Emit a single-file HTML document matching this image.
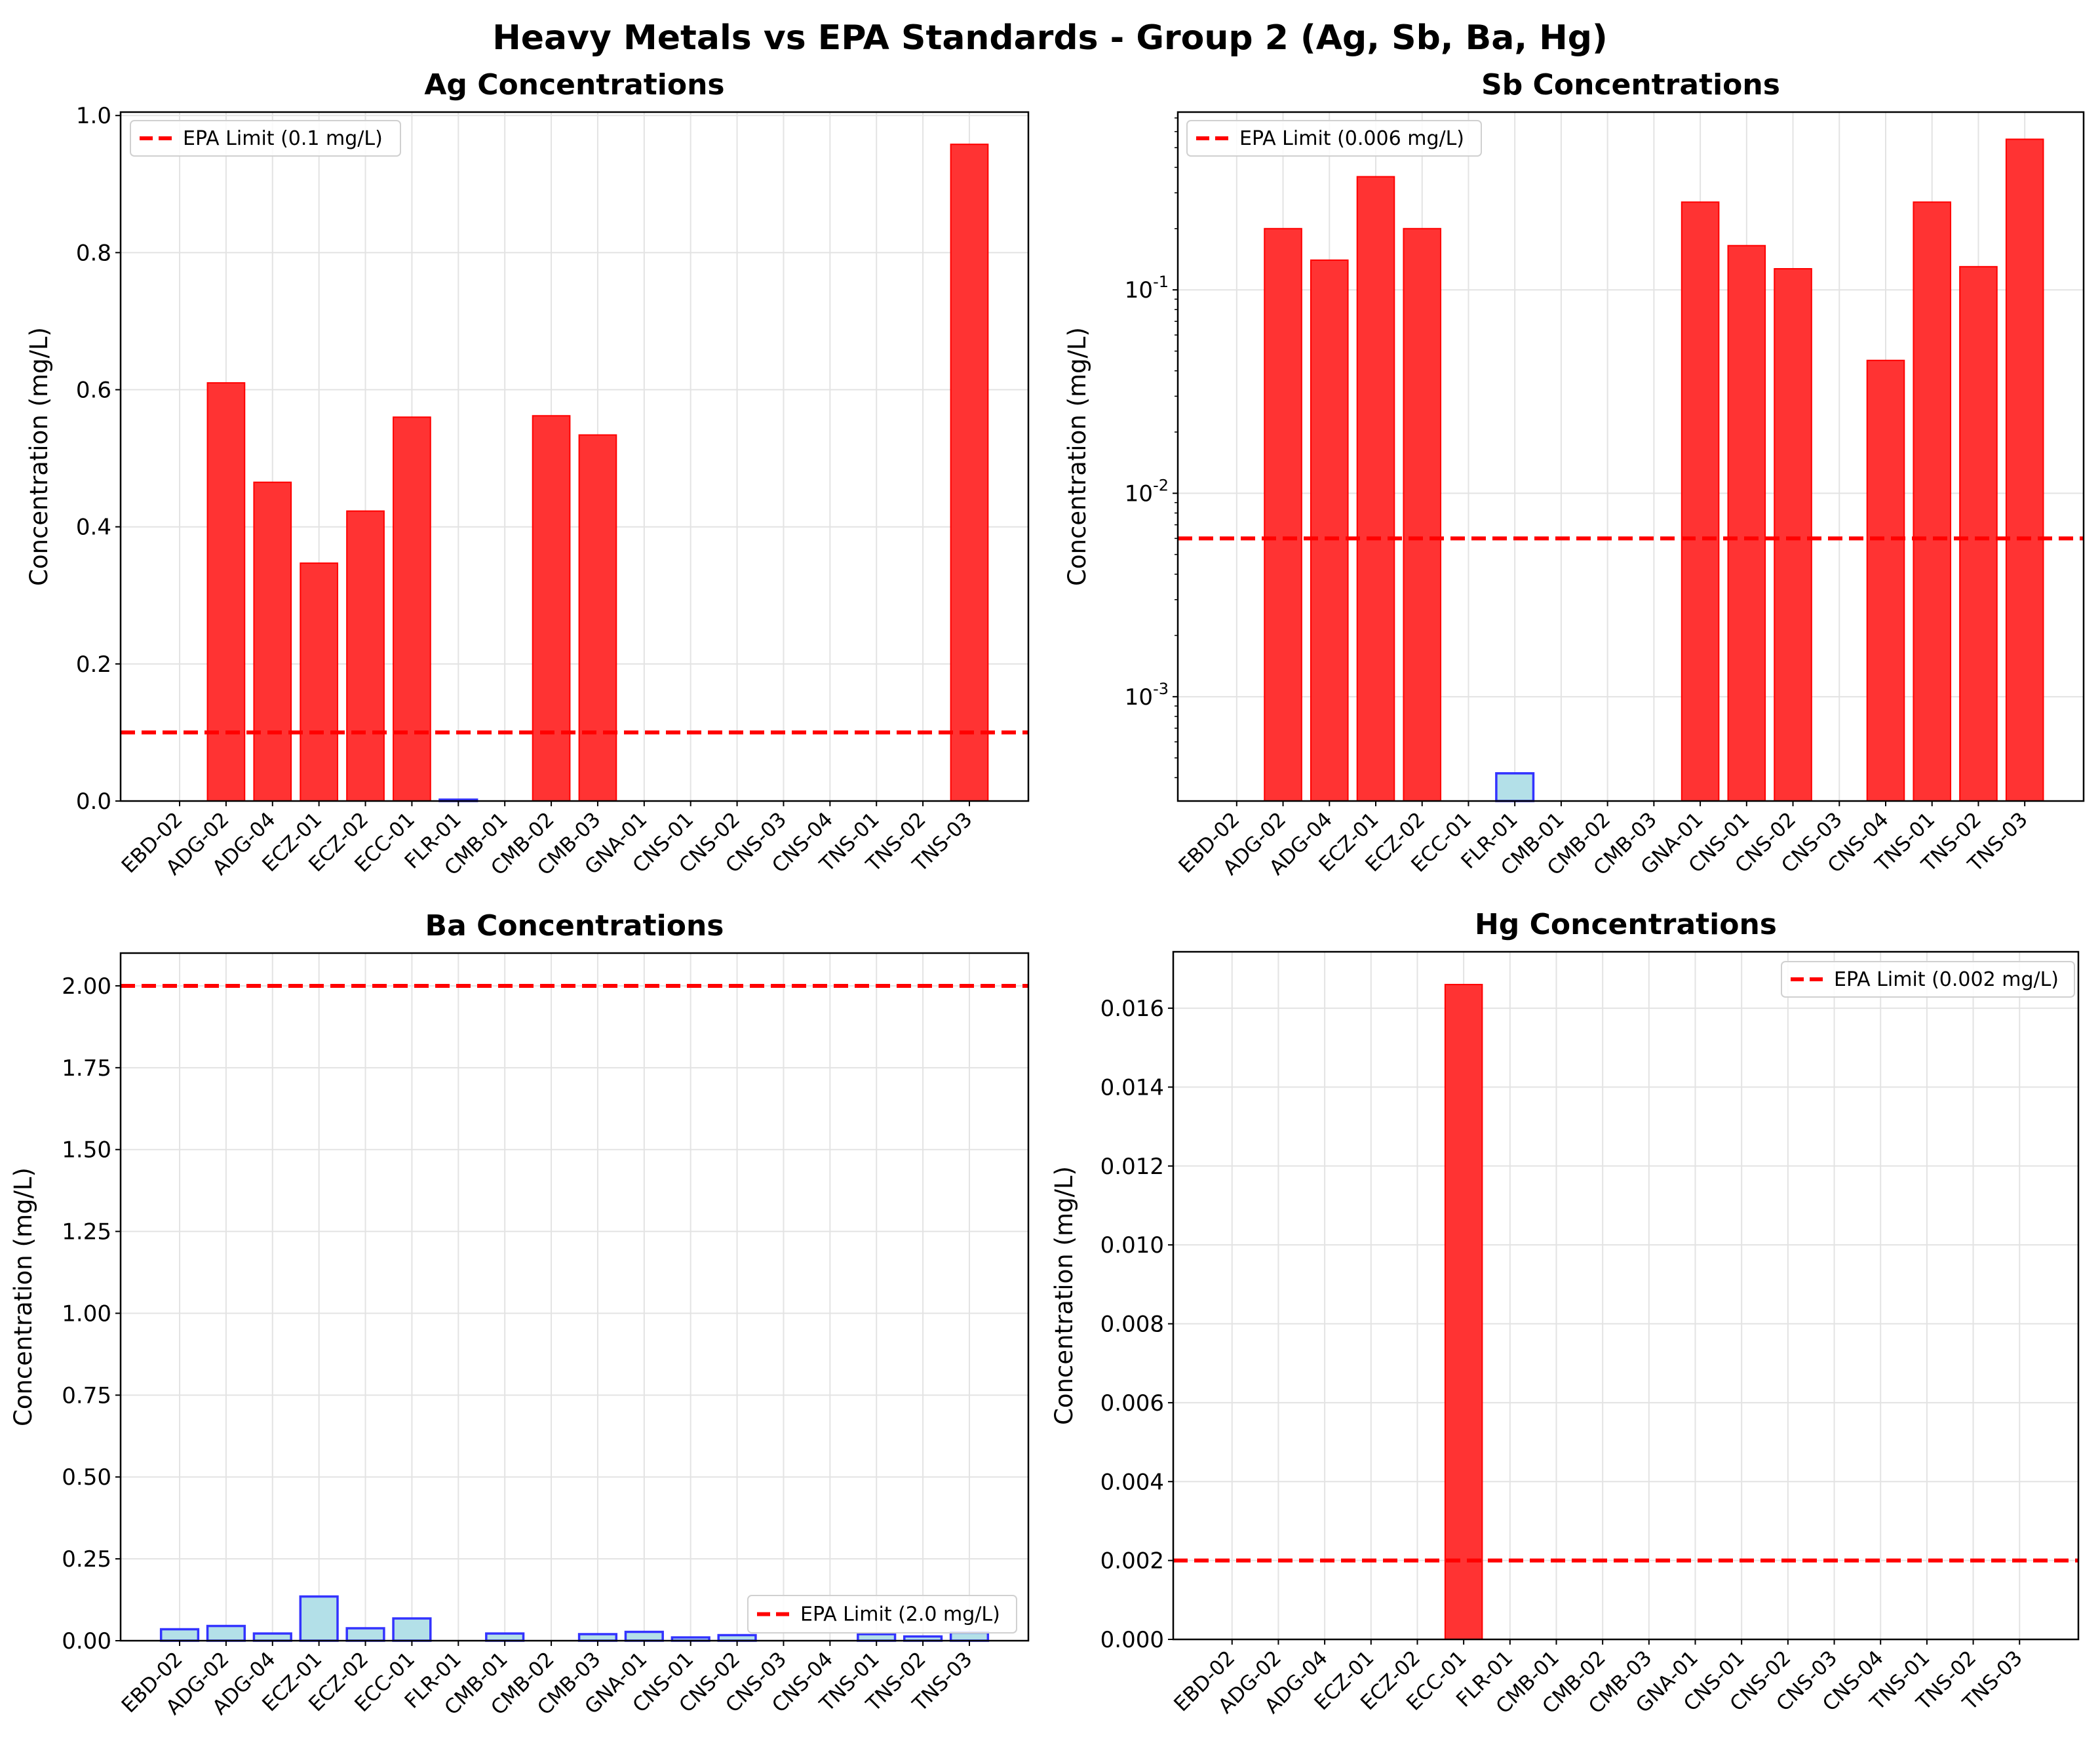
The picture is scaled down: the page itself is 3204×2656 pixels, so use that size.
<!DOCTYPE html>
<html><head><meta charset="utf-8"><style>
body{margin:0;background:#fff}
svg text{font-family:"DejaVu Sans","Liberation Sans",sans-serif}
</style></head><body>
<svg id="fig" width="3204" height="2651" viewBox="0 0 3204 2651" xmlns="http://www.w3.org/2000/svg">
<rect width="3204" height="2651" fill="#fff"/>
<text x="1602" y="75" text-anchor="middle" font-size="52" font-weight="bold">Heavy Metals vs EPA Standards - Group 2 (Ag, Sb, Ba, Hg)</text>
</svg>
<script>
const categories=["EBD-02","ADG-02","ADG-04","ECZ-01","ECZ-02","ECC-01","FLR-01","CMB-01","CMB-02","CMB-03","GNA-01","CNS-01","CNS-02","CNS-03","CNS-04","TNS-01","TNS-02","TNS-03"];
const agValues=[0,0.61,0.465,0.347,0.423,0.56,0.002,0,0.562,0.534,0,0,0,0,0,0,0,0.958];
const sbValues=[0,0.2,0.14,0.36,0.2,0,0.00042,0,0,0,0.27,0.165,0.127,0,0.045,0.27,0.13,0.55];
const baValues=[0.035,0.045,0.022,0.135,0.038,0.068,0,0.022,0,0.02,0.027,0.01,0.017,0,0,0.02,0.013,0.025];
const hgValues=[0,0,0,0,0,0.0166,0,0,0,0,0,0,0,0,0,0,0,0];
const limits=[0.1,0.006,2.0,0.002];
const agTicks=["0.0","0.2","0.4","0.6","0.8","1.0"];
const baTicks=["0.00","0.25","0.50","0.75","1.00","1.25","1.50","1.75","2.00"];
const hgTicks=["0.000","0.002","0.004","0.006","0.008","0.010","0.012","0.014","0.016"];
const sbTicks=[0.001,0.01,0.1];

const NS="http://www.w3.org/2000/svg";
const svg=document.getElementById('fig');
function mk(tag,attrs,parent){const e=document.createElementNS(NS,tag);for(const k in attrs)e.setAttribute(k,attrs[k]);(parent||svg).appendChild(e);return e;}

function panel(o){
  const g=mk('g',{});
  
  
  const L=o.L,R=o.R,T=o.T,B=o.B;
  const xmin=-1.27,xmax=categories.length-1+1.27;
  const X=i=>L+(i-xmin)/(xmax-xmin)*(R-L);
  let Y;
  if(o.log){const a=Math.log10(o.ymin),b=Math.log10(o.ymax);Y=v=>B-(Math.log10(v)-a)/(b-a)*(B-T);}
  else Y=v=>B-(v-o.ymin)/(o.ymax-o.ymin)*(B-T);
  categories.forEach((c,i)=>{const l=mk('line',{x1:X(i),x2:X(i),y1:T,y2:B,stroke:'#e3e3e3','stroke-width':2},g);
    });
  o.ticks.forEach(t=>{const v=o.log?t:parseFloat(t);const y=Y(v);
    const l=mk('line',{x1:L,x2:R,y1:y,y2:y,stroke:'#e3e3e3','stroke-width':2},g);
    
    mk('line',{x1:L-8,x2:L,y1:y,y2:y,stroke:'#000','stroke-width':2},g);
    let tx;
    if(o.log){tx=mk('text',{x:L-14,y:y+12,'text-anchor':'end','font-size':34},g);
      tx.textContent='10';const s=mk('tspan',{dy:-16,'font-size':24},tx);s.textContent=String(Math.round(Math.log10(v)));}
    else{tx=mk('text',{x:L-14,y:y+12,'text-anchor':'end','font-size':34},g);tx.textContent=t;}
    
  });
  if(o.log){for(let e=-4;e<0;e++)for(let m=2;m<10;m++){const v=m*Math.pow(10,e);if(v<o.ymin||v>o.ymax)continue;
    mk('line',{x1:L-5,x2:L,y1:Y(v),y2:Y(v),stroke:'#000','stroke-width':1.5},g);}}
  const base=o.log?o.ymin:0;
  o.values.forEach((v,i)=>{if(v<=0)return;const red=v>o.limit;
    const y=Y(v),y0=Y(base);
    const r=mk('rect',{x:X(i-0.4),y:y,width:X(0.4)-X(-0.4),height:Math.max(y0-y,1),
      fill:red?'#ff3333':'#b3e0e8',stroke:red?'#ff0000':'#3333ff','stroke-width':red?2:3.5},g);
    });
  const ly=Y(o.limit);
  const ll=mk('line',{x1:L,x2:R,y1:ly,y2:ly,stroke:'#ff0000','stroke-width':6,'stroke-dasharray':'22,10'},g);
  
  const bx=mk('rect',{x:L,y:T,width:R-L,height:B-T,fill:'none',stroke:'#000','stroke-width':2.5},g);
  
  categories.forEach((c,i)=>{const x=X(i);mk('line',{x1:x,x2:x,y1:B,y2:B+8,stroke:'#000','stroke-width':2},g);
    const t=mk('text',{x:x+6,y:B+30,'text-anchor':'end','font-size':31,transform:`rotate(-45 ${x+6} ${B+30})`},g);
    t.textContent=c;});
  const tt=mk('text',{x:(L+R)/2,y:T-27,'text-anchor':'middle','font-size':44,'font-weight':'bold'},g);
  tt.textContent=o.title;
  const yl=mk('text',{x:o.ylx,y:(T+B)/2,'text-anchor':'middle','font-size':37,transform:`rotate(-90 ${o.ylx} ${(T+B)/2})`},g);
  yl.textContent='Concentration (mg/L)';
  const lg=o.leg;
  const lb=mk('rect',{x:lg[0],y:lg[1],width:lg[2],height:lg[3],rx:6,fill:'#fff','fill-opacity':0.85,stroke:'#d0d0d0','stroke-width':2},g);
  
  const my=lg[1]+lg[3]/2;
  mk('line',{x1:lg[0]+14,x2:lg[0]+66,y1:my,y2:my,stroke:'#ff0000','stroke-width':6,'stroke-dasharray':'20,9'},g);
  const lt=mk('text',{x:lg[0]+80,y:my+10,'font-size':30},g);
  lt.textContent='EPA Limit ('+o.limit+' mg/L)';
}
panel({name:'ag',title:'Ag Concentrations',L:184,R:1569,T:171,B:1222,ymin:0,ymax:1.005,values:agValues,limit:limits[0],ticks:agTicks,ylx:72,leg:[199,184,412,54]});
panel({name:'sb',title:'Sb Concentrations',L:1797,R:3179,T:171,B:1222,log:true,ymin:3.07e-4,ymax:0.748,values:sbValues,limit:limits[1],ticks:sbTicks,ylx:1656,leg:[1811,184,449,54]});
panel({name:'ba',title:'Ba Concentrations',L:184,R:1569,T:1454,B:2503,ymin:0,ymax:2.1,values:baValues,limit:'2.0',ticks:baTicks,ylx:48,leg:[1141,2434,410,57]});
panel({name:'hg',title:'Hg Concentrations',L:1790,R:3171,T:1452,B:2501,ymin:0,ymax:0.01743,values:hgValues,limit:limits[3],ticks:hgTicks,ylx:1636,leg:[2718,1467,447,54]});
</script>
</body></html>
